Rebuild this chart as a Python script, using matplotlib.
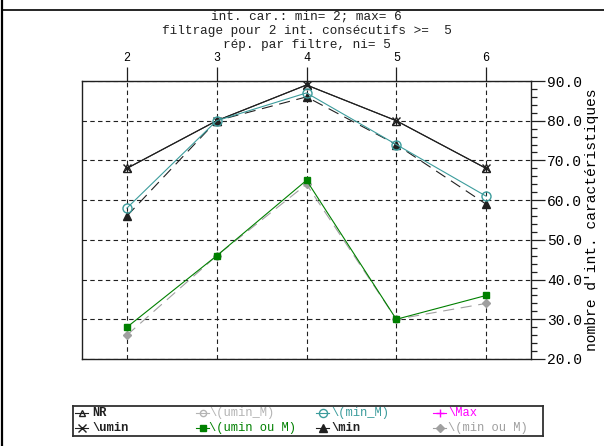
import matplotlib
matplotlib.use("Agg")
import matplotlib.pyplot as plt
from matplotlib.lines import Line2D
from matplotlib.ticker import MultipleLocator, FormatStrFormatter

# ---------------- data ----------------
x_vals = [2, 3, 4, 5, 6]
x_ticklabels = ["2", "3", "4", "5", "6"]
y_ticks = [20, 30, 40, 50, 60, 70, 80, 90]

nr = [68, 80, 89, 80, 68]
umin = [68, 80, 89, 80, 68]
umin_M = []            # not visible in the chart
min_M = [58, 80, 87, 74, 61]
max_s = []             # not visible in the chart
umin_ou_M = [28, 46, 65, 30, 36]
min_s = [56, 80, 86, 74, 59]
min_ou_M = [26, 46, 64, 30, 34]

title_lines = ["int. car.: min= 2; max= 6",
               "filtrage pour 2 int. consécutifs >=  5",
               "rép. par filtre, ni= 5"]
ylabel = "nombre d'int. caractéristiques"

labels = ["NR", "\\umin", "\\(umin_M)", "\\(umin ou M)",
          "\\(min_M)", "\\min", "\\Max", "\\(min ou M)"]

# ---------------- style ----------------
MONO = ["Liberation Mono", "DejaVu Sans Mono"]
W, H = 604, 446
TEAL = "#3c9c9c"
GREEN = "#008000"
MAG = "#ff00ff"
GRAY = "#a0a0a0"
LGRAY = "#b4b4b4"

styles = {
    "NR": dict(color="#202020", ls="-", marker="^", mfc="none", ms=5.5, lw=0.8),
    "\\umin": dict(color="#202020", ls="-", marker="x", ms=6, lw=0.8, mew=1.0),
    "\\(umin_M)": dict(color=LGRAY, ls="-", marker="o", mfc="none", ms=5, lw=0.8),
    "\\(umin ou M)": dict(color=GREEN, ls="-", marker="s", ms=4.5, lw=0.8),
    "\\(min_M)": dict(color=TEAL, ls="-", marker="o", mfc="none", ms=6.5, lw=0.8),
    "\\min": dict(color="#202020", ls=(0, (10, 6)), marker="^", ms=6, lw=0.8),
    "\\Max": dict(color=MAG, ls="-", marker="+", ms=7, lw=0.8),
    "\\(min ou M)": dict(color=GRAY, ls=(0, (10, 6)), marker="D", ms=4.5, lw=0.8),
}
text_colors = {
    "NR": "#202020", "\\umin": "#202020", "\\(umin_M)": LGRAY,
    "\\(umin ou M)": GREEN, "\\(min_M)": TEAL, "\\min": "#202020",
    "\\Max": MAG, "\\(min ou M)": GRAY,
}

fig = plt.figure(figsize=(W / 100, H / 100), dpi=100)
fig.patch.set_facecolor("white")

def px(x0, y0, x1, y1):
    return [x0 / W, 1 - y1 / H, (x1 - x0) / W, (y1 - y0) / H]

ax = fig.add_axes(px(82, 81, 531, 359))
ax.set_xlim(1.5, 6.5)
ax.set_ylim(20, 90)

series = [
    ("\\(umin_M)", umin_M),
    ("NR", nr),
    ("\\umin", umin),
    ("\\Max", max_s),
    ("\\(min ou M)", min_ou_M),
    ("\\(umin ou M)", umin_ou_M),
    ("\\min", min_s),
    ("\\(min_M)", min_M),
]
for name, vals in series:
    st = dict(styles[name])
    col = st.pop("color")
    if len(vals):
        ax.plot(x_vals[:len(vals)], vals, color=col, mec=col,
                mfc=st.pop("mfc", col), zorder=3, **st)

# axes / ticks
ax.xaxis.tick_top()
ax.set_xticks(x_vals)
ax.set_xticklabels(x_ticklabels, fontfamily=MONO, fontsize=8.5)
ax.tick_params(axis="x", which="major", direction="out", length=10, width=0.9,
               pad=2, top=True, bottom=False, color="#202020")
ax.yaxis.tick_right()
ax.set_yticks(y_ticks)
ax.yaxis.set_minor_locator(MultipleLocator(2))
ax.yaxis.set_major_formatter(FormatStrFormatter("%.1f"))
for t in ax.get_yticklabels():
    t.set_fontfamily(MONO)
    t.set_fontsize(10.5)
ax.tick_params(axis="y", which="major", direction="out", length=10, width=0.9,
               pad=1.5, right=True, left=False, color="#202020")
ax.tick_params(axis="y", which="minor", direction="out", length=4.5, width=0.9,
               right=True, left=False, color="#202020")
ax.yaxis.set_label_position("right")
ax.set_ylabel(ylabel, fontfamily=MONO, fontsize=10.5, labelpad=2)

ax.grid(True, which="major", color="#202020", lw=0.8, ls=(0, (4, 3)))
ax.set_axisbelow(True)
for s in ax.spines.values():
    s.set_color("#202020")
    s.set_linewidth(1.0)

# titles
cx = (82 + 531) / 2 / W
for i, line in enumerate(title_lines):
    fig.text(cx, 1 - (17 + 14 * i) / H, line, ha="center", va="center",
             fontfamily=MONO, fontsize=9.2, color="#202020")

# figure border lines
fig.add_artist(Line2D([1.5 / W, 1.5 / W], [0, 1], color="black", lw=1.6))
fig.add_artist(Line2D([1.5 / W, 1], [1 - 9.5 / H, 1 - 9.5 / H], color="black", lw=1.2))

# manual legend
lax = fig.add_axes(px(73, 406, 543, 436))
lax.set_xlim(73, 543)
lax.set_ylim(436, 406)
lax.set_xticks([])
lax.set_yticks([])
for s in lax.spines.values():
    s.set_linewidth(1.3)
    s.set_color("#303030")
col_x = [75, 196, 316, 433]
text_x = [92, 209, 331, 448]
row_y = [413, 428]
for i, name in enumerate(labels):
    c, r = i // 2, i % 2
    st = dict(styles[name])
    col = st.pop("color")
    st.pop("ls")
    ms = st.pop("ms") * 0.9
    mfc = st.pop("mfc", col)
    x0 = col_x[c]
    lax.plot([x0, x0 + 13], [row_y[r], row_y[r]], color=col, lw=0.8)
    lax.plot([x0 + 6.5], [row_y[r]], color=col, mec=col, mfc=mfc, ms=ms,
             ls="none", **{k: v for k, v in st.items() if k != "lw"})
    lax.text(text_x[c], row_y[r], name, ha="left", va="center",
             fontfamily=MONO, fontsize=8.7, color=text_colors[name],
             fontweight="bold" if text_colors[name] == "#202020" else "normal")

fig.savefig("out.png", dpi=100)
